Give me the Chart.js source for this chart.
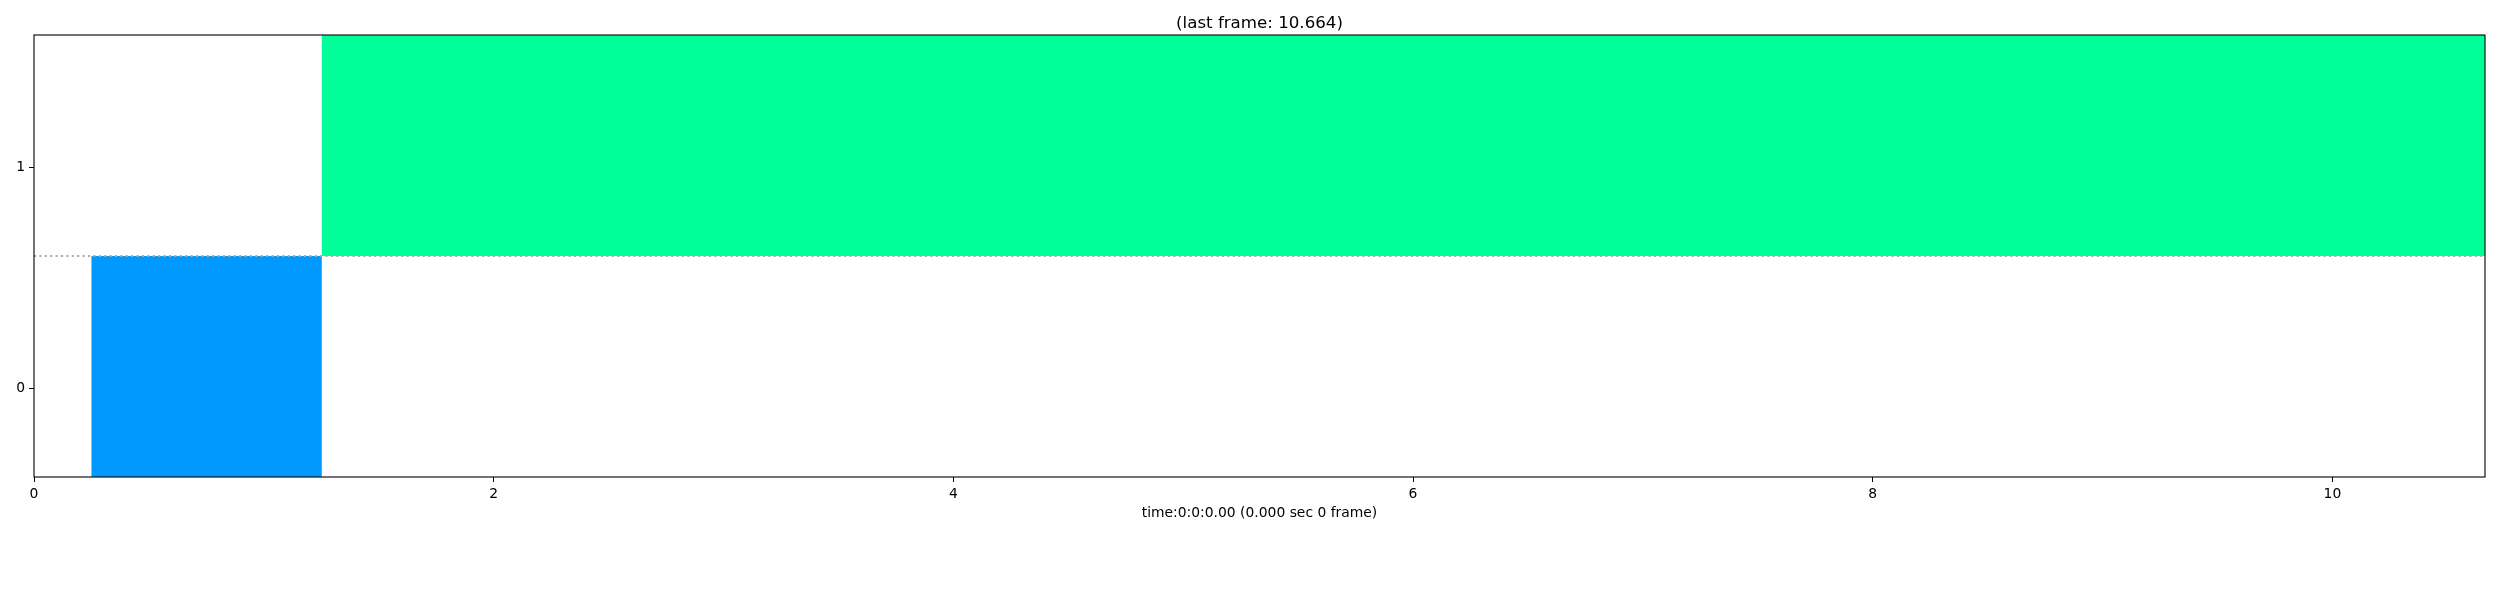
<!DOCTYPE html>
<html>
<head>
<meta charset="utf-8">
<script src="https://cdn.jsdelivr.net/npm/chart.js@4.4.1/dist/chart.umd.min.js"></script>
<style>
  html, body { margin: 0; padding: 0; background: #ffffff; }
  #wrap { width: 2500px; height: 600px; }
</style>
</head>
<body>
<div id="wrap"><canvas id="c" width="2500" height="600"></canvas></div>
<script>
// ---- data ----
const barStarts = [0.25, 1.252];
const barEnds   = [1.252, 10.664];
const barLows   = [-0.4, 0.6];
const barHighs  = [0.6, 1.6];
const barColors = ['#0099ff', '#00ff99'];
const xTicks = [0, 2, 4, 6, 8, 10];
const yTicks = [0, 1];
const xMin = 0, xMax = 10.664;
const yMin = -0.4, yMax = 1.6;
const refLineY = 0.6;
const titleText = '(last frame: 10.664)';
const xLabel = 'time:0:0:0.00 (0.000 sec 0 frame)';

Chart.defaults.font.family = "'DejaVu Sans', sans-serif";
Chart.defaults.color = '#000000';

const datasets = [];
datasets.push({
  type: 'line',
  data: [{x: xMin, y: refLineY}, {x: xMax, y: refLineY}],
  borderColor: '#aaaaaa',
  borderWidth: 2,
  borderDash: [2, 3.4],
  pointRadius: 0,
  fill: false,
  order: 0
});
for (let i = 0; i < barStarts.length; i++) {
  datasets.push({
    type: 'line',
    data: [
      {x: barStarts[i], y: barLows[i]},
      {x: barEnds[i], y: barLows[i]},
      {x: barEnds[i], y: barHighs[i]},
      {x: barStarts[i], y: barHighs[i]},
      {x: barStarts[i], y: barLows[i]}
    ],
    borderWidth: 0,
    borderColor: barColors[i],
    backgroundColor: barColors[i],
    pointRadius: 0,
    tension: 0,
    fill: 'shape',
    order: 1
  });
}

const framePlugin = {
  id: 'frame',
  afterDatasetsDraw(chart) {
    const a = chart.chartArea;
    const ctx = chart.ctx;
    ctx.save();
    ctx.strokeStyle = '#000000';
    ctx.lineWidth = 1.1;
    ctx.strokeRect(a.left, a.top, a.right - a.left, a.bottom - a.top);
    ctx.restore();
  }
};

new Chart(document.getElementById('c'), {
  type: 'scatter',
  data: { datasets },
  plugins: [framePlugin],
  options: {
    responsive: false,
    animation: false,
    layout: { padding: { left: 0, right: 15, top: 0, bottom: 0 } },
    plugins: {
      legend: { display: false },
      tooltip: { enabled: false },
      title: {
        display: true,
        text: titleText,
        fullSize: false,
        font: { size: 16.67, weight: 'normal', lineHeight: 1.2 },
        color: '#000000',
        padding: { top: 14, bottom: 1 }
      }
    },
    scales: {
      x: {
        type: 'linear',
        min: xMin,
        max: xMax,
        afterBuildTicks: (s) => { s.ticks = xTicks.map(v => ({ value: v })); },
        afterFit: (s) => { s.height = 123; },
        ticks: { font: { size: 13.89 }, color: '#000000', padding: 4, maxRotation: 0, autoSkip: false },
        grid: { display: true, drawOnChartArea: false, drawTicks: true, tickLength: 5, tickColor: '#000000', tickWidth: 1 },
        border: { display: false },
        title: {
          display: true,
          text: xLabel,
          font: { size: 13.89, lineHeight: 1.2 },
          color: '#000000',
          padding: { top: 4, bottom: 78 }
        }
      },
      y: {
        type: 'linear',
        min: yMin,
        max: yMax,
        afterBuildTicks: (s) => { s.ticks = yTicks.map(v => ({ value: v })); },
        afterFit: (s) => { s.width = 34; },
        ticks: { font: { size: 13.89 }, color: '#000000', padding: 4, autoSkip: false },
        grid: { display: true, drawOnChartArea: false, drawTicks: true, tickLength: 5, tickColor: '#000000', tickWidth: 1 },
        border: { display: false }
      }
    }
  }
});
</script>
</body>
</html>
